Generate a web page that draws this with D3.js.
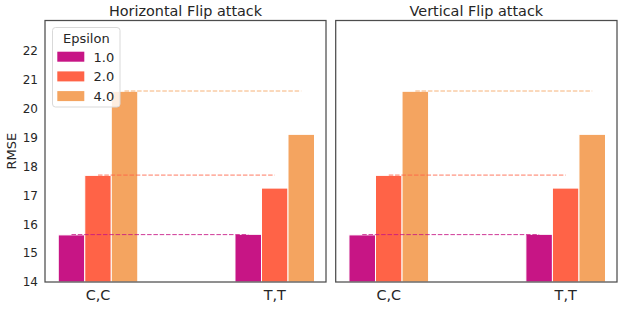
<!DOCTYPE html>
<html><head><meta charset="utf-8">
<script src="https://cdn.jsdelivr.net/npm/d3@7"></script>
<style>body{margin:0;background:#fff}svg{display:block}text{font-family:"DejaVu Sans",sans-serif;fill:#262626}</style>
</head><body>
<svg id="c" width="623" height="309"></svg>
<script>
const categories = ["C,C", "T,T"];
const epsilons = ["1.0", "2.0", "4.0"];
const colors = ["#C71585", "#FF6347", "#F4A460"];
// RMSE values per epsilon, per category
const horizValues = [[15.63, 15.65], [17.69, 17.25], [20.60, 19.11]];
const vertValues  = [[15.63, 15.65], [17.69, 17.25], [20.60, 19.11]];
// dashed reference levels per epsilon
const horizRef = [15.64, 17.70, 20.61];
const vertRef  = [15.64, 17.70, 20.61];
const yTicks = [14, 15, 16, 17, 18, 19, 20, 21, 22];
const titles = ["Horizontal Flip attack", "Vertical Flip attack"];

const svg = d3.select("#c");
const barW = 0.15;
const offsets = [-0.15, 0, 0.15];
const y = d3.scaleLinear().domain([14, 23.05]).range([282, 20.5]);

const panels = [
  {x0: 45, x1: 326, values: horizValues, ref: horizRef, title: titles[0], yaxis: true},
  {x0: 335.7, x1: 617, values: vertValues, ref: vertRef, title: titles[1], yaxis: false}
];

panels.forEach(p => {
  const x = d3.scaleLinear().domain([-0.30, 1.29]).range([p.x0, p.x1]);
  const g = svg.append("g");
  // bars
  p.values.forEach((vals, si) => {
    g.selectAll(null).data(vals).enter().append("rect")
      .attr("x", (d, i) => x(i + offsets[si] - barW / 2))
      .attr("width", x(barW) - x(0))
      .attr("y", d => y(d))
      .attr("height", d => y(14) - y(d))
      .attr("fill", colors[si])
      .attr("stroke", "#fff").attr("stroke-width", 1);
  });
  // dashed reference lines
  p.ref.forEach((r, si) => {
    g.append("line")
      .attr("x1", x(0 + offsets[si])).attr("x2", x(1 + offsets[si]))
      .attr("y1", y(r)).attr("y2", y(r))
      .attr("stroke", colors[si]).attr("stroke-opacity", 0.85)
      .attr("stroke-width", 1).attr("stroke-dasharray", "4.5,1.8");
  });
  // frame
  g.append("rect").attr("x", p.x0).attr("y", y.range()[1])
    .attr("width", p.x1 - p.x0).attr("height", y.range()[0] - y.range()[1])
    .attr("fill", "none").attr("stroke", "#4d4d4d").attr("stroke-width", 1.25);
  // x tick labels
  g.selectAll(null).data(categories).enter().append("text")
    .attr("x", (d, i) => x(i)).attr("y", 299.5)
    .attr("text-anchor", "middle").style("font-size", "14.4px").text(d => d);
  // title
  g.append("text").attr("x", (p.x0 + p.x1) / 2).attr("y", 15.5)
    .attr("text-anchor", "middle").style("font-size", "14.4px").text(p.title);
  if (p.yaxis) {
    g.selectAll(null).data(yTicks).enter().append("text")
      .attr("x", 38).attr("y", d => y(d)).attr("dy", "0.36em")
      .attr("text-anchor", "end").style("font-size", "12px").text(d => d);
    g.append("text").attr("transform", `translate(15.5,${(y.range()[0] + y.range()[1]) / 2}) rotate(-90)`)
      .attr("text-anchor", "middle").style("font-size", "13px").text("RMSE");
    // legend
    const lg = g.append("g");
    lg.append("rect").attr("x", 52.5).attr("y", 27.5).attr("width", 67.5).attr("height", 79.5)
      .attr("rx", 3).attr("fill", "#fff").attr("fill-opacity", 0.8)
      .attr("stroke", "#d9d9d9").attr("stroke-width", 1);
    lg.append("text").attr("x", 86.3).attr("y", 43).attr("text-anchor", "middle")
      .style("font-size", "13px").text("Epsilon");
    epsilons.forEach((e, i) => {
      const yy = 51.7 + i * 19.7;
      lg.append("rect").attr("x", 57.3).attr("y", yy).attr("width", 27).attr("height", 10)
        .attr("fill", colors[i]);
      lg.append("text").attr("x", 93.5).attr("y", yy + 10).style("font-size", "13px").text(e);
    });
  }
});
</script>
</body></html>
